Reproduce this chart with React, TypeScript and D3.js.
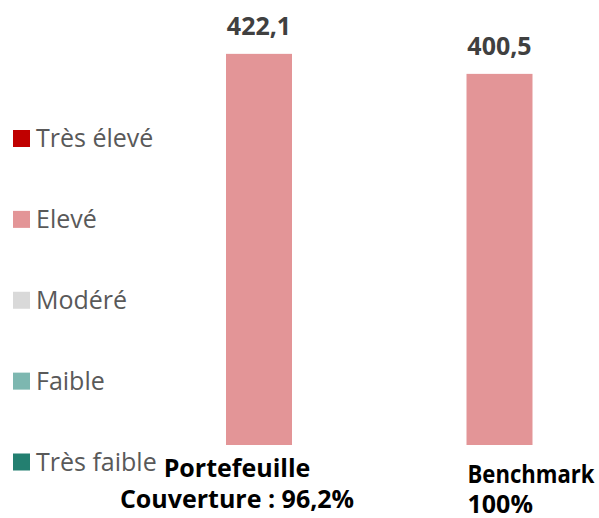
import React from "react";
import * as d3 from "d3";

// categories and series
const categories = ["Portefeuille", "Benchmark"];
const subLabels = ["Couverture : 96,2%", "100%"];
const levels = ["Très élevé", "Elevé", "Modéré", "Faible", "Très faible"];
const levelColors = ["#C00000", "#E39597", "#D9D9D9", "#7DB7B0", "#237F70"];
const tresEleve = [0, 0];
const eleve = [422.1, 400.5];
const modere = [0, 0];
const faible = [0, 0];
const tresFaible = [0, 0];
const totalLabels = ["422,1", "400,5"];

const W = 599, H = 518;
const font = "'Open Sans', 'DejaVu Sans', sans-serif";

export default function App() {
  const rows = categories.map((c, i) => ({
    cat: c,
    "Très faible": tresFaible[i],
    "Faible": faible[i],
    "Modéré": modere[i],
    "Elevé": eleve[i],
    "Très élevé": tresEleve[i],
  }));
  const stacked = d3.stack<any>().keys([...levels].reverse())(rows);

  const x = d3.scalePoint().domain(categories).range([259, 499.5]);
  const barW = 66;
  const y = d3.scaleLinear().domain([0, 450]).range([445, 28]);
  const color = d3.scaleOrdinal<string>().domain(levels).range(levelColors);
  const legendY = d3.scalePoint().domain(levels).range([138.5, 462]);

  const totals = categories.map((_, i) =>
    tresEleve[i] + eleve[i] + modere[i] + faible[i] + tresFaible[i]);

  return (
    <svg width={W} height={H} style={{ position: "absolute", left: 0, top: 0 }}>
      <rect width={W} height={H} fill="#fff" />
      {stacked.map((s) => (
        <g key={s.key} fill={color(s.key)}>
          {s.map((d, i) =>
            d[1] - d[0] > 0 ? (
              <rect key={i} x={x(categories[i])! - barW / 2} y={y(d[1])}
                width={barW} height={y(d[0]) - y(d[1])} />
            ) : null)}
        </g>
      ))}
      {totals.map((t, i) => (
        <text key={i} x={x(categories[i])} y={y(t) - 19} textAnchor="middle"
          fontFamily={font} fontWeight="bold" fontSize={25} fill="#404040">
          {totalLabels[i]}
        </text>
      ))}
      {levels.map((l) => (
        <g key={l} transform={`translate(0,${legendY(l)})`}>
          <rect x={13} y={-8.5} width={17} height={17} fill={color(l)} />
          <text x={36} y={8.5} fontFamily={font} fontSize={25} fill="#595959">{l}</text>
        </g>
      ))}
      {/* category labels */}
      <g fontFamily={font} fontWeight="bold" fontSize={25} fill="#000">
        <text x={x(categories[0])! - 22} y={477} textAnchor="middle">{categories[0]}</text>
        <text x={x(categories[0])! - 22} y={508} textAnchor="middle">{subLabels[0]}</text>
        <text x={x(categories[1])! - 32} y={483} textLength={127} lengthAdjust="spacingAndGlyphs">{categories[1]}</text>
        <text x={x(categories[1])! - 32} y={513}>{subLabels[1]}</text>
      </g>
    </svg>
  );
}
